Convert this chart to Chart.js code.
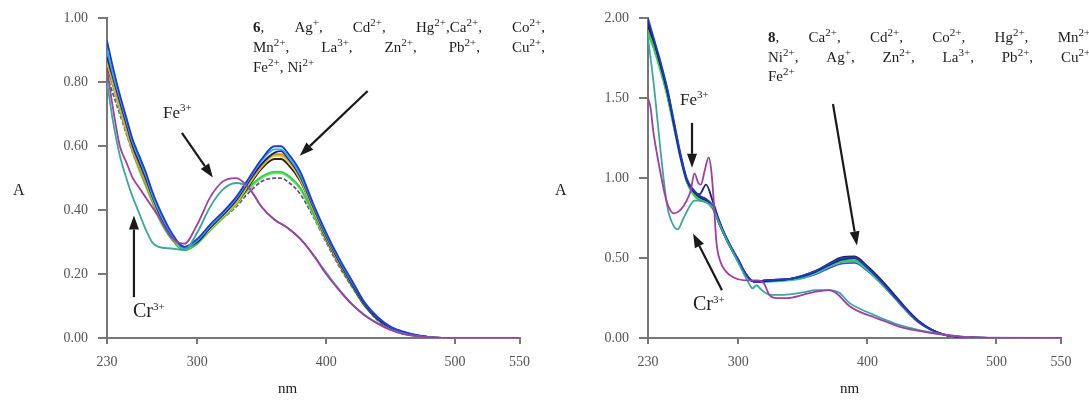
<!DOCTYPE html>
<html lang="en">
<head>
<meta charset="UTF-8" />
<title>UV-vis spectra of 6 and 8 with metal ions</title>
<script src="https://cdn.jsdelivr.net/npm/chart.js"></script>
<style>
    body { margin: 0; background: #fff; font-family: "Liberation Serif", serif; color: #222; }
    #wrap { position: relative; width: 1089px; height: 403px; overflow: hidden; }
    canvas { position: absolute; top: 0; }
    .lbl { position: absolute; white-space: nowrap; line-height: 1; }
    .lbl sup { font-size: 11px; vertical-align: 7px; line-height: 0; }
    .ions { position: absolute; font-size: 15px; line-height: 20px; color: #1e1e1e; }
    .ions div { display: flex; justify-content: space-between; white-space: nowrap; }
    .ions div.left { justify-content: flex-start; gap: 4px; }
    .ions sup { font-size: 11px; vertical-align: 6px; line-height: 0; }
</style>
</head>
<body>
<div id="wrap">
    <canvas id="chartLeft" width="540" height="403" style="left:0"></canvas>
    <canvas id="chartRight" width="549" height="403" style="left:540px"></canvas>

    <div class="lbl" style="left:13px;top:182px;font-size:16px">A</div>
    <div class="lbl" style="left:278px;top:381px;font-size:15px">nm</div>
    <div class="lbl" style="left:555px;top:182px;font-size:16px">A</div>
    <div class="lbl" style="left:840px;top:381px;font-size:15px">nm</div>

    <div class="lbl" style="left:163px;top:104px;font-size:17px">Fe<sup>3+</sup></div>
    <div class="lbl" style="left:133px;top:300px;font-size:20px">Cr<sup>3+</sup></div>
    <div class="lbl" style="left:680px;top:91px;font-size:17px">Fe<sup>3+</sup></div>
    <div class="lbl" style="left:693px;top:293px;font-size:20px">Cr<sup>3+</sup></div>

    <div class="ions" style="left:253px;top:17px;width:292px">
        <div><span><b>6</b>,</span><span>Ag<sup>+</sup>,</span><span>Cd<sup>2+</sup>,</span><span>Hg<sup>2+</sup>,Ca<sup>2+</sup>,</span><span>Co<sup>2+</sup>,</span></div>
        <div><span>Mn<sup>2+</sup>,</span><span>La<sup>3+</sup>,</span><span>Zn<sup>2+</sup>,</span><span>Pb<sup>2+</sup>,</span><span>Cu<sup>2+</sup>,</span></div>
        <div class="left"><span>Fe<sup>2+</sup>,</span><span>Ni<sup>2+</sup></span></div>
    </div>
    <div class="ions" style="left:768px;top:28px;width:326px;line-height:19.5px">
        <div><span><b>8</b>,</span><span>Ca<sup>2+</sup>,</span><span>Cd<sup>2+</sup>,</span><span>Co<sup>2+</sup>,</span><span>Hg<sup>2+</sup>,</span><span>Mn<sup>2+</sup>,</span></div>
        <div><span>Ni<sup>2+</sup>,</span><span>Ag<sup>+</sup>,</span><span>Zn<sup>2+</sup>,</span><span>La<sup>3+</sup>,</span><span>Pb<sup>2+</sup>,</span><span>Cu<sup>2+</sup>,</span></div>
        <div class="left"><span>Fe<sup>2+</sup></span></div>
    </div>
</div>

<script>
    // ---- tick labels ----
    const X_TICKS = [230, 300, 400, 500, 550];

    // ---- left panel (compound 6) ----
    const L_NM = [230, 235, 240, 245, 250, 255, 260, 265, 270, 280, 290, 300, 310, 320, 330, 340, 350, 360, 365, 370, 380, 390, 400, 410, 420, 430, 440, 450, 460, 480, 500, 550];
    const L_BLUE   = [0.93, 0.84, 0.76, 0.69, 0.62, 0.57, 0.52, 0.46, 0.41, 0.33, 0.285, 0.31, 0.355, 0.395, 0.44, 0.50, 0.56, 0.60, 0.60, 0.58, 0.52, 0.42, 0.33, 0.25, 0.18, 0.11, 0.065, 0.035, 0.02, 0.003, 0, 0];
    const L_CYAN   = [0.90, 0.82, 0.75, 0.68, 0.61, 0.56, 0.51, 0.45, 0.40, 0.325, 0.28, 0.305, 0.35, 0.39, 0.435, 0.495, 0.555, 0.59, 0.59, 0.57, 0.51, 0.415, 0.325, 0.245, 0.175, 0.11, 0.065, 0.035, 0.018, 0.003, 0, 0];
    const L_NAVY   = [0.88, 0.81, 0.74, 0.67, 0.60, 0.55, 0.50, 0.445, 0.395, 0.32, 0.285, 0.30, 0.345, 0.385, 0.43, 0.49, 0.545, 0.58, 0.585, 0.565, 0.505, 0.41, 0.32, 0.24, 0.17, 0.105, 0.06, 0.032, 0.016, 0.003, 0, 0];
    const L_ORANGE = [0.87, 0.80, 0.73, 0.66, 0.59, 0.54, 0.49, 0.44, 0.39, 0.32, 0.28, 0.30, 0.345, 0.385, 0.425, 0.485, 0.54, 0.575, 0.575, 0.56, 0.50, 0.405, 0.315, 0.235, 0.17, 0.105, 0.06, 0.032, 0.016, 0.003, 0, 0];
    const L_YELLOW = [0.86, 0.79, 0.72, 0.65, 0.585, 0.535, 0.485, 0.435, 0.385, 0.315, 0.28, 0.30, 0.34, 0.38, 0.42, 0.48, 0.535, 0.57, 0.57, 0.555, 0.495, 0.40, 0.315, 0.235, 0.168, 0.104, 0.06, 0.031, 0.015, 0.003, 0, 0];
    const L_BLACK  = [0.85, 0.79, 0.72, 0.65, 0.585, 0.535, 0.485, 0.435, 0.385, 0.315, 0.28, 0.30, 0.34, 0.38, 0.42, 0.475, 0.53, 0.56, 0.56, 0.545, 0.49, 0.40, 0.31, 0.232, 0.165, 0.102, 0.058, 0.03, 0.015, 0.003, 0, 0];
    const L_GREEN  = [0.90, 0.81, 0.73, 0.66, 0.59, 0.53, 0.48, 0.43, 0.38, 0.31, 0.275, 0.295, 0.34, 0.38, 0.42, 0.47, 0.505, 0.52, 0.52, 0.51, 0.47, 0.39, 0.31, 0.235, 0.165, 0.10, 0.058, 0.03, 0.015, 0.003, 0, 0];
    const L_LIME   = [0.84, 0.78, 0.71, 0.645, 0.58, 0.525, 0.475, 0.425, 0.375, 0.31, 0.275, 0.295, 0.335, 0.375, 0.415, 0.465, 0.50, 0.515, 0.515, 0.505, 0.465, 0.385, 0.305, 0.23, 0.162, 0.10, 0.057, 0.03, 0.015, 0.003, 0, 0];
    const L_VIOLET = [0.82, 0.76, 0.70, 0.64, 0.58, 0.53, 0.48, 0.43, 0.38, 0.315, 0.28, 0.30, 0.34, 0.375, 0.41, 0.455, 0.49, 0.50, 0.50, 0.49, 0.45, 0.38, 0.30, 0.225, 0.16, 0.10, 0.055, 0.028, 0.014, 0.003, 0, 0];

    const L_NM_ION = [230, 235, 240, 245, 250, 255, 260, 265, 270, 280, 290, 300, 310, 320, 330, 340, 350, 360, 370, 380, 390, 400, 410, 420, 430, 440, 450, 460, 480, 500, 550];
    const L_FE3 = [0.84, 0.71, 0.60, 0.55, 0.50, 0.47, 0.44, 0.41, 0.38, 0.315, 0.295, 0.355, 0.44, 0.49, 0.50, 0.47, 0.41, 0.37, 0.345, 0.31, 0.26, 0.20, 0.15, 0.105, 0.07, 0.045, 0.025, 0.012, 0.002, 0, 0];
    const L_CR3 = [0.80, 0.67, 0.57, 0.50, 0.44, 0.39, 0.34, 0.30, 0.285, 0.28, 0.275, 0.33, 0.41, 0.465, 0.485, 0.47, 0.41, 0.37, 0.345, 0.31, 0.26, 0.205, 0.152, 0.107, 0.072, 0.046, 0.026, 0.013, 0.002, 0, 0];

    // ---- right panel (compound 8) ----
    const R_NM = [230, 235, 240, 245, 250, 255, 260, 265, 270, 275, 280, 285, 290, 295, 300, 305, 310, 315, 320, 330, 340, 350, 360, 370, 380, 390, 400, 410, 420, 430, 440, 450, 460, 480, 500, 550];
    const R_BLUE   = [2.00, 1.86, 1.72, 1.56, 1.36, 1.16, 1.00, 0.93, 0.89, 0.87, 0.83, 0.73, 0.64, 0.56, 0.49, 0.41, 0.36, 0.35, 0.36, 0.365, 0.37, 0.39, 0.42, 0.46, 0.50, 0.505, 0.44, 0.36, 0.27, 0.18, 0.10, 0.05, 0.02, 0.003, 0, 0];
    const R_NAVY   = [1.98, 1.85, 1.70, 1.54, 1.34, 1.14, 0.99, 0.92, 0.90, 0.96, 0.86, 0.74, 0.64, 0.56, 0.49, 0.41, 0.36, 0.35, 0.355, 0.36, 0.37, 0.385, 0.415, 0.455, 0.49, 0.50, 0.44, 0.36, 0.27, 0.18, 0.10, 0.05, 0.02, 0.003, 0, 0];
    const R_BLACK  = [1.95, 1.84, 1.70, 1.55, 1.35, 1.15, 0.99, 0.92, 0.88, 0.86, 0.82, 0.72, 0.63, 0.55, 0.48, 0.41, 0.36, 0.35, 0.36, 0.365, 0.37, 0.39, 0.42, 0.465, 0.505, 0.51, 0.45, 0.37, 0.28, 0.185, 0.105, 0.052, 0.02, 0.003, 0, 0];
    const R_GREEN  = [1.92, 1.80, 1.66, 1.51, 1.32, 1.13, 0.98, 0.90, 0.86, 0.85, 0.81, 0.72, 0.63, 0.55, 0.48, 0.41, 0.36, 0.35, 0.355, 0.36, 0.365, 0.38, 0.41, 0.45, 0.48, 0.485, 0.43, 0.35, 0.265, 0.175, 0.10, 0.05, 0.02, 0.003, 0, 0];
    const R_CYAN   = [1.90, 1.80, 1.68, 1.52, 1.33, 1.14, 0.98, 0.90, 0.87, 0.85, 0.82, 0.72, 0.63, 0.55, 0.48, 0.41, 0.36, 0.35, 0.35, 0.355, 0.36, 0.375, 0.405, 0.445, 0.475, 0.48, 0.425, 0.35, 0.265, 0.175, 0.10, 0.05, 0.02, 0.004, 0.001, 0];
    const R_YELLOW = [1.93, 1.82, 1.68, 1.53, 1.33, 1.14, 0.98, 0.91, 0.87, 0.86, 0.82, 0.72, 0.63, 0.55, 0.48, 0.41, 0.36, 0.35, 0.355, 0.36, 0.37, 0.385, 0.415, 0.455, 0.49, 0.495, 0.44, 0.36, 0.27, 0.18, 0.10, 0.05, 0.02, 0.003, 0, 0];
    const R_VIOLET = [1.96, 1.83, 1.68, 1.52, 1.33, 1.14, 0.98, 0.91, 0.88, 0.86, 0.82, 0.72, 0.63, 0.55, 0.48, 0.41, 0.36, 0.35, 0.355, 0.36, 0.365, 0.375, 0.40, 0.435, 0.465, 0.47, 0.42, 0.345, 0.26, 0.17, 0.095, 0.048, 0.02, 0.003, 0, 0];

    const R_NM_FE = [230, 232, 234, 237, 240, 243, 246, 250, 255, 260, 263, 266, 269, 271, 274, 277, 279, 281, 283, 286, 290, 296, 305, 315, 320, 324, 330, 338, 350, 360, 370, 376, 386, 395, 405, 415, 425, 440, 455, 470, 490, 550];
    const R_FE3 = [1.50, 1.44, 1.30, 1.15, 1.02, 0.90, 0.82, 0.78, 0.80, 0.86, 0.92, 1.03, 0.97, 0.96, 1.05, 1.13, 1.05, 0.85, 0.60, 0.48, 0.42, 0.38, 0.36, 0.36, 0.34, 0.27, 0.25, 0.25, 0.27, 0.29, 0.30, 0.28, 0.20, 0.16, 0.13, 0.10, 0.07, 0.045, 0.025, 0.01, 0, 0];
    const R_NM_CR = [230, 235, 240, 245, 250, 253, 257, 262, 266, 270, 275, 280, 285, 290, 295, 300, 305, 309, 311, 314, 318, 325, 335, 350, 360, 370, 378, 386, 395, 405, 415, 425, 440, 455, 470, 490, 550];
    const R_CR3 = [1.88, 1.55, 1.15, 0.82, 0.70, 0.68, 0.74, 0.82, 0.86, 0.86, 0.85, 0.82, 0.72, 0.63, 0.55, 0.47, 0.39, 0.33, 0.31, 0.33, 0.30, 0.27, 0.27, 0.285, 0.30, 0.30, 0.285, 0.22, 0.18, 0.145, 0.11, 0.08, 0.05, 0.028, 0.012, 0.002, 0];

    // arrows, in data units: [x1, y1, x2 (tip), y2 (tip)]
    const L_ARROWS = [[288.1, 0.642, 312.1, 0.502], [250.9, 0.128, 250.9, 0.383], [432.2, 0.773, 379.5, 0.570]];
    const R_ARROWS = [[264.1, 1.346, 264.1, 1.065], [287.3, 0.299, 264.9, 0.654], [373.3, 1.464, 391.9, 0.579]];

    function series(nm, vals, color, dash) {
        return {
            data: nm.map((x, i) => ({ x: x, y: vals[i] })),
            borderColor: color,
            borderWidth: 1.8,
            borderDash: dash || [],
            pointRadius: 0,
            cubicInterpolationMode: "monotone",
            fill: false
        };
    }

    const arrowPlugin = {
        id: "arrows",
        afterDatasetsDraw(chart, args, opts) {
            const ctx = chart.ctx, xs = chart.scales.x, ys = chart.scales.y;
            ctx.save();
            ctx.strokeStyle = "#1a1a1a";
            ctx.fillStyle = "#1a1a1a";
            ctx.lineWidth = 2.2;
            (opts.list || []).forEach(a => {
                const x1 = xs.getPixelForValue(a[0]), y1 = ys.getPixelForValue(a[1]);
                const x2 = xs.getPixelForValue(a[2]), y2 = ys.getPixelForValue(a[3]);
                const ang = Math.atan2(y2 - y1, x2 - x1), len = 14, half = 5;
                const bx = x2 - len * Math.cos(ang), by = y2 - len * Math.sin(ang);
                ctx.beginPath();
                ctx.moveTo(x1, y1);
                ctx.lineTo(bx, by);
                ctx.stroke();
                ctx.beginPath();
                ctx.moveTo(x2, y2);
                ctx.lineTo(bx + half * Math.sin(ang), by - half * Math.cos(ang));
                ctx.lineTo(bx - half * Math.sin(ang), by + half * Math.cos(ang));
                ctx.closePath();
                ctx.fill();
            });
            ctx.restore();
        }
    };

    const tickFont = { family: "'Liberation Serif', serif", size: 14 };

    function makeChart(id, datasets, yMax, yStep, yWidth, padRight, arrows) {
        return new Chart(document.getElementById(id), {
            type: "line",
            data: { datasets: datasets },
            plugins: [arrowPlugin],
            options: {
                responsive: false,
                animation: false,
                layout: { padding: { top: 17, right: padRight, left: 0, bottom: 0 } },
                plugins: { legend: { display: false }, tooltip: { enabled: false }, arrows: { list: arrows } },
                scales: {
                    x: {
                        type: "linear", min: 230, max: 550,
                        afterBuildTicks: s => { s.ticks = X_TICKS.map(v => ({ value: v })); },
                        afterFit: s => { s.height = 65; },
                        grid: { drawOnChartArea: false, tickLength: 6, color: "#777", lineWidth: 2 },
                        border: { color: "#777", width: 2 },
                        ticks: { font: tickFont, color: "#555", padding: 10, maxRotation: 0, autoSkip: false }
                    },
                    y: {
                        min: 0, max: yMax,
                        afterFit: s => { s.width = yWidth; },
                        grid: { drawOnChartArea: false, tickLength: 9, color: "#777", lineWidth: 2 },
                        border: { color: "#777", width: 2 },
                        ticks: { stepSize: yStep, font: tickFont, color: "#555", padding: 10, callback: v => v.toFixed(2) }
                    }
                }
            }
        });
    }

    makeChart("chartLeft", [
        series(L_NM_ION, L_FE3, "#a23ca6"),
        series(L_NM_ION, L_CR3, "#3aa89c"),
        series(L_NM, L_BLUE, "#2238d6"),
        series(L_NM, L_CYAN, "#20b4e6"),
        series(L_NM, L_NAVY, "#1c1c7c"),
        series(L_NM, L_ORANGE, "#e08a24"),
        series(L_NM, L_YELLOW, "#d6d02c"),
        series(L_NM, L_BLACK, "#2e2218"),
        series(L_NM, L_GREEN, "#2ecf4c"),
        series(L_NM, L_LIME, "#74e262"),
        series(L_NM, L_VIOLET, "#6a4a9c", [4, 2])
    ], 1.0, 0.2, 107, 20, L_ARROWS);

    makeChart("chartRight", [
        series(R_NM_FE, R_FE3, "#a23ca6"),
        series(R_NM_CR, R_CR3, "#3aa89c"),
        series(R_NM, R_BLUE, "#2238d6"),
        series(R_NM, R_NAVY, "#1c1c7c"),
        series(R_NM, R_BLACK, "#2e2218"),
        series(R_NM, R_GREEN, "#2ecf4c"),
        series(R_NM, R_CYAN, "#20c8dc"),
        series(R_NM, R_YELLOW, "#b8d838"),
        series(R_NM, R_VIOLET, "#5a48a8")
    ], 2.0, 0.5, 108, 28, R_ARROWS);
</script>
</body>
</html>
